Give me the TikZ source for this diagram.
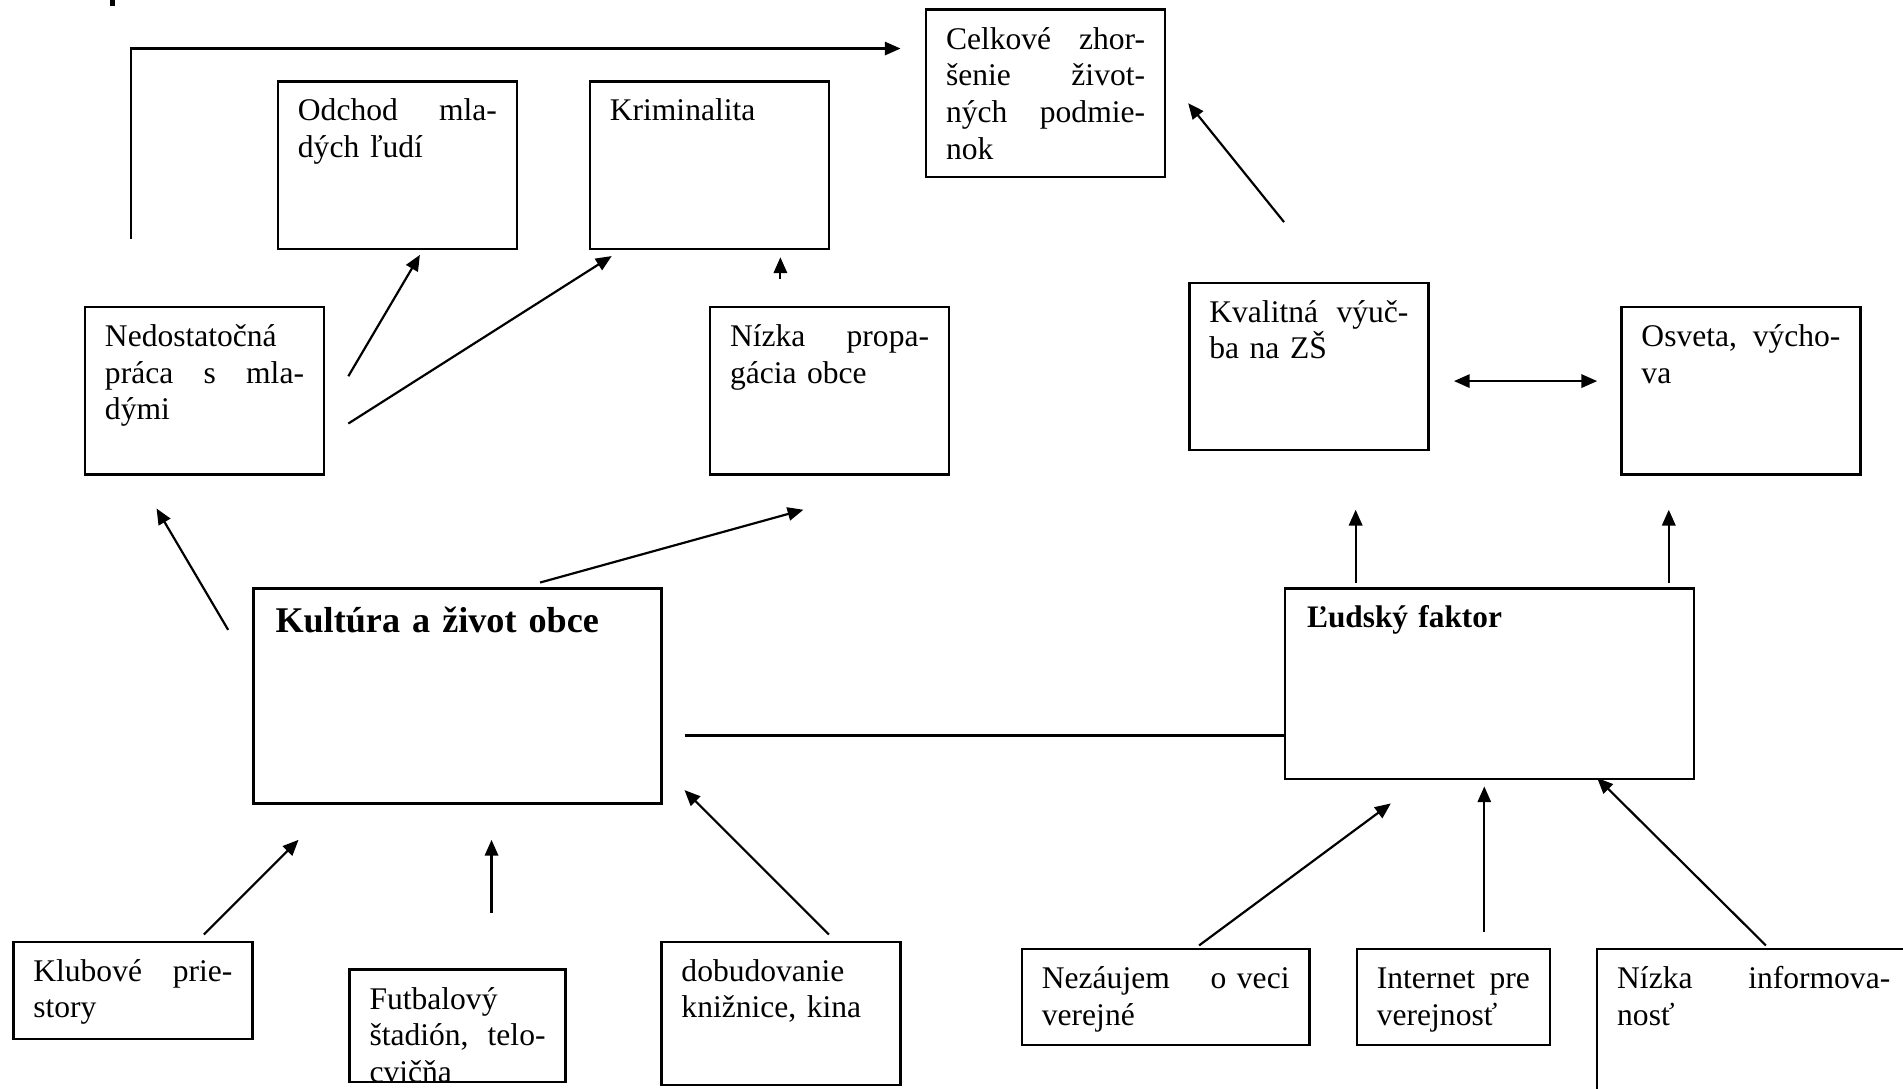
\documentclass[tikz,border=0pt]{standalone}
\usepackage{fontspec}
\setmainfont{Liberation Serif}
\usetikzlibrary{arrows.meta}

\tikzset{
  box/.style={draw, line width=1pt, anchor=north west, inner xsep=8.25pt, inner ysep=0pt,
    align=left, text width=82pt, text height=16.2pt, text depth=52.8pt,
    font=\fontsize{13}{15.15}\selectfont},
  spoj/.style={line width=0.9pt},
  >={Triangle[length=6.5pt,width=5.5pt]}
}

\begin{document}
\begin{tikzpicture}[x=0.5pt, y=-0.5pt]
\clip (0,0) rectangle (1568,897);
\fill (91,0) rectangle (95,5);

% Rámčeky hore
\node[box] (celkove) at (762,7) {Celkové \hfill zhor-\\šenie \hfill život-\\ných \hfill podmie-\\nok};
\node[box] (odchod) at (228,66) {Odchod \hfill mla-\\dých ľudí};
\node[box] (krimi) at (485,66) {Kriminalita};
\node[box] (nedost) at (69,252) {Nedostatočná\\práca \hfill s \hfill mla-\\dými};
\node[box] (propag) at (584,252) {Nízka \hfill propa-\\gácia obce};
\node[box] (kvalita) at (979,232) {Kvalitná \hfill výuč-\\ba na ZŠ};
\node[box] (osveta) at (1335,252) {Osveta, \hfill výcho-\\va};

% Hlavné rámčeky
\node[box, inner xsep=9pt, text width=150pt, text height=18pt, text depth=70.5pt,
  font=\fontsize{14.9}{18}\selectfont\bfseries] (kultura) at (208,484) {Kultúra a život obce};
\node[box, inner xsep=9pt, text width=150.5pt, text height=16pt, text depth=62.5pt,
  font=\fontsize{12.9}{15}\selectfont\bfseries] (faktor) at (1058,484) {Ľudský faktor};

% Rámčeky dole
\node[box, text depth=23.8pt] (kluby) at (10,775) {Klubové \hfill prie-\\story};
\begin{scope}
\clip (280,790) rectangle (472,892);
\node[box, text width=72.5pt, text depth=30.3pt] (futbal) at (287,798) {Futbalový\\štadión, \hfill telo-\\cvičňa};
\end{scope}
\node[box, text depth=42.8pt] (kniznica) at (544,775) {dobudovanie\\knižnice, kina};
\node[box, text width=102pt, text depth=23.3pt] (nezaujem) at (841,781) {Nezáujem \hfill o veci\\verejné};
\node[box, text width=63pt, text depth=23.3pt] (internet) at (1117,781) {Internet \hfill pre\\verejnosť};
\node[box, text width=112.5pt, text depth=100pt] (info) at (1315,781) {Nízka \hfill informova-\\nosť};

% Súradnice spojníc
\coordinate (z1) at (108,197);
\coordinate (z2) at (742,40);
\coordinate (n1) at (287,310);
\coordinate (n2) at (346,210);
\coordinate (n3) at (287,349);
\coordinate (n4) at (504,211);
\coordinate (p1) at (643,230);
\coordinate (p2) at (643,212);
\coordinate (k1) at (188,519);
\coordinate (k2) at (129,419);
\coordinate (k3) at (445,480);
\coordinate (k4) at (662,420);
\coordinate (v1) at (1058,183);
\coordinate (v2) at (979,85);
\coordinate (v3) at (1198,314);
\coordinate (v4) at (1316,314);
\coordinate (f1) at (1117,480);
\coordinate (f2) at (1117,420);
\coordinate (f3) at (1375,480);
\coordinate (f4) at (1375,420);
\coordinate (s1) at (564,606);
\coordinate (s2) at (1058,606);
\coordinate (d1) at (168,770);
\coordinate (d2) at (246,692);
\coordinate (d3) at (405,752);
\coordinate (d4) at (405,692);
\coordinate (d5) at (683,770);
\coordinate (d6) at (564,651);
\coordinate (e1) at (988,779);
\coordinate (e2) at (1146,662);
\coordinate (e3) at (1223,768);
\coordinate (e4) at (1223,648);
\coordinate (e5) at (1455,779);
\coordinate (e6) at (1316,641);

% Šípky
\draw[spoj, ->] (z1) |- (z2);
\draw[spoj, ->] (n1) -- (n2);
\draw[spoj, ->] (n3) -- (n4);
\draw[spoj, ->] (p1) -- (p2);
\draw[spoj, ->] (k1) -- (k2);
\draw[spoj, ->] (k3) -- (k4);
\draw[spoj, ->] (v1) -- (v2);
\draw[spoj, <->] (v3) -- (v4);
\draw[spoj, ->] (f1) -- (f2);
\draw[spoj, ->] (f3) -- (f4);
\draw[spoj] (s1) -- (s2);
\draw[spoj, ->] (d1) -- (d2);
\draw[spoj, ->] (d3) -- (d4);
\draw[spoj, ->] (d5) -- (d6);
\draw[spoj, ->] (e1) -- (e2);
\draw[spoj, ->] (e3) -- (e4);
\draw[spoj, ->] (e5) -- (e6);
\end{tikzpicture}
\end{document}
